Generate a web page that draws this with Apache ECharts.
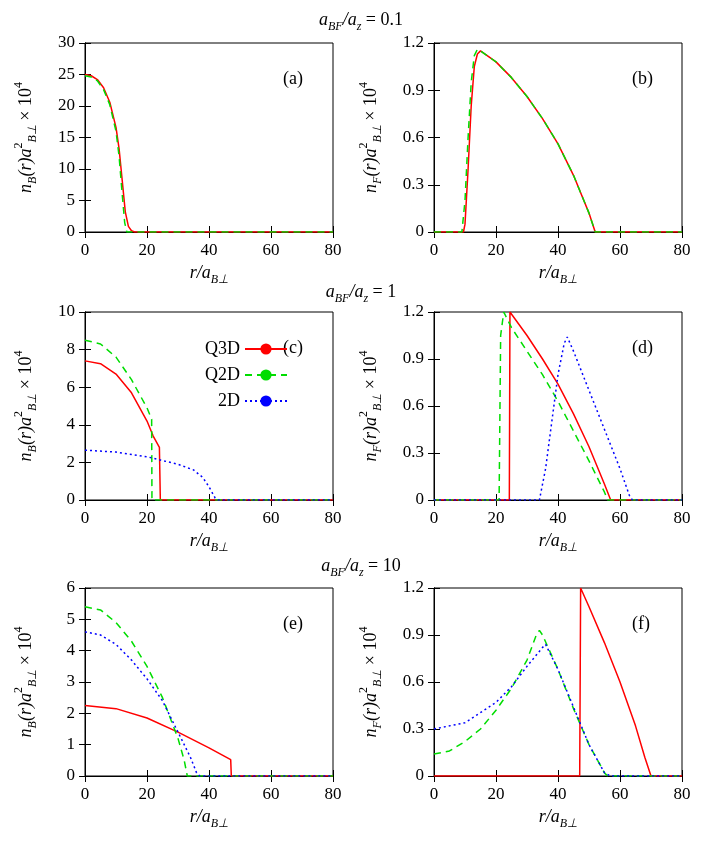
<!DOCTYPE html>
<html><head><meta charset="utf-8">
<script src="https://cdn.jsdelivr.net/npm/echarts@6/dist/echarts.min.js"></script>
<style>html,body{margin:0;padding:0;background:#fff}#c{width:722px;height:844px}</style>
</head><body><div id="c"></div>
<script>
// ---- data (r/a_B⊥, value) ----
const aQ3D=[[0,25],[2,24.8],[4,24.2],[6,22.9],[8,20.6],[10,16.6],[11,13.2],[12,8.2],[13,3.2],[14,0.9],[15,0.2],[16,0],[80,0]];
const aQ2D=[[0,24.8],[2,24.6],[4,24],[6,22.6],[8,20.2],[10,16],[11,12],[12,6],[12.8,1.5],[13.5,0],[80,0]];
const bQ3D=[[0,0],[9.5,0],[10,0.05],[11,0.4],[12,0.8],[13,1.05],[14,1.13],[15,1.15],[20,1.08],[25,0.98],[30,0.86],[35,0.72],[40,0.56],[45,0.36],[50,0.12],[52,0],[80,0]];
const bQ2D=[[0,0],[9,0],[10,0.2],[11,0.6],[12,0.95],[13,1.12],[14,1.16],[15,1.15],[20,1.08],[25,0.98],[30,0.86],[35,0.72],[40,0.56],[45,0.36],[50,0.12],[52,0],[80,0]];
const cQ3D=[[0,7.4],[5,7.25],[10,6.7],[15,5.7],[20,4.2],[22,3.4],[24,2.8],[24.3,0],[80,0]];
const cQ2D=[[0,8.5],[5,8.3],[10,7.6],[15,6.4],[20,4.9],[21.5,4.3],[21.6,0],[80,0]];
const c2D=[[0,2.65],[10,2.55],[20,2.3],[30,1.9],[35,1.6],[38,1.2],[40,0.7],[42,0.1],[43,0],[80,0]];
const dQ3D=[[0,0],[24.3,0],[24.5,1.2],[30,1.05],[35,0.9],[40,0.74],[45,0.55],[50,0.34],[55,0.1],[57,0],[80,0]];
const dQ2D=[[0,0],[21,0],[21.5,1.05],[22.5,1.2],[25,1.1],[30,0.95],[35,0.8],[40,0.63],[45,0.44],[50,0.25],[55,0.05],[56,0],[80,0]];
const d2D=[[0,0],[34,0],[36,0.2],[38,0.5],[40,0.8],[42,1.0],[43,1.04],[45,0.95],[50,0.7],[55,0.45],[60,0.2],[63,0.03],[64,0],[80,0]];
const eQ3D=[[0,2.25],[10,2.15],[20,1.85],[30,1.4],[40,0.9],[47,0.52],[47.2,0],[80,0]];
const eQ2D=[[0,5.4],[5,5.3],[10,4.9],[15,4.3],[20,3.5],[25,2.5],[30,1.2],[32,0.5],[33,0],[80,0]];
const e2D=[[0,4.6],[5,4.5],[10,4.2],[15,3.7],[20,3.1],[25,2.4],[30,1.4],[34,0.6],[36,0.1],[37,0],[80,0]];
const fQ3D=[[0,0],[47,0],[47.3,1.2],[50,1.08],[55,0.85],[60,0.6],[65,0.32],[68,0.12],[70,0],[80,0]];
const fQ2D=[[0,0.14],[5,0.16],[10,0.22],[15,0.3],[20,0.42],[25,0.56],[30,0.74],[33,0.9],[34,0.93],[35,0.9],[40,0.68],[45,0.43],[50,0.2],[55,0.02],[56,0],[80,0]];
const f2D=[[0,0.3],[10,0.34],[20,0.47],[25,0.57],[30,0.7],[35,0.82],[36,0.84],[40,0.68],[45,0.44],[50,0.2],[55,0.02],[57,0],[80,0]];
const panelLabels=['(a)','(b)','(c)','(d)','(e)','(f)'];
const yMax=[30,1.2,10,1.2,6,1.2];
const yStep=[5,0.3,2,0.3,1,0.3];
const rowTitles=['0.1','1','10'];
const panelData=[[aQ3D,aQ2D,null],[bQ3D,bQ2D,null],[cQ3D,cQ2D,c2D],[dQ3D,dQ2D,d2D],[eQ3D,eQ2D,e2D],[fQ3D,fQ2D,f2D]];

const F='Liberation Serif';
const rich={i:{fontFamily:F,fontStyle:'italic',fontWeight:'normal',fontSize:18,lineHeight:26,color:'#000'},
 t:{fontFamily:F,fontWeight:'normal',fontSize:18,lineHeight:26,color:'#000'},
 sb:{fontFamily:F,fontStyle:'italic',fontWeight:'normal',fontSize:12,verticalAlign:'bottom',lineHeight:26,color:'#000'},
 sp:{fontFamily:F,fontWeight:'normal',fontSize:12,verticalAlign:'top',lineHeight:26,color:'#000'}};
const lefts=[85,434], tops=[43,312,588], W=248, H=[189,188,188];
const names=['Q3D','Q2D','2D'];
const styles=[{color:'#ff0000',type:'solid'},{color:'#00dd00',type:[7,5]},{color:'#0000ff',type:[2,3]}];
const grid=[],xAxis=[],yAxis=[],series=[],graphic=[],title=[];
for(let p=0;p<6;p++){
  const col=p%2,row=Math.floor(p/2);
  grid.push({left:lefts[col],top:tops[row],width:W,height:H[row],show:true,borderColor:'#000',borderWidth:1});
  const ax={min:0,max:80,interval:20,gridIndex:p,axisLine:{lineStyle:{color:'#000'}},axisTick:{inside:true,length:6,lineStyle:{color:'#000'}},splitLine:{show:false}};
  xAxis.push(Object.assign({},ax,{type:'value',position:'bottom',axisLabel:{fontFamily:F,fontSize:17,color:'#000',margin:10},
    name:'{i|r/a}{sb|B⊥}',nameLocation:'middle',nameGap:28,nameTextStyle:{rich}}));
  xAxis.push(Object.assign({},ax,{type:'value',position:'top',axisLabel:{show:false}}));
  const ay={min:0,max:yMax[p],interval:yStep[p],gridIndex:p,axisLine:{lineStyle:{color:'#000'}},axisTick:{inside:true,length:6,lineStyle:{color:'#000'}},splitLine:{show:false}};
  const sub=col===0?'B':'F';
  yAxis.push(Object.assign({},ay,{type:'value',position:'left',
    axisLabel:{fontFamily:F,fontSize:17,color:'#000',margin:10,formatter:v=>yStep[p]<1?(v===0?'0':v.toFixed(1)):String(v)},
    name:'{i|n}{sb|'+sub+'}{i|(r)a}{sp|2}{sb|B⊥}{t| × 10}{sp|4}',nameLocation:'middle',nameGap:col===0?46:50,nameRotate:90,nameTextStyle:{rich}}));
  yAxis.push(Object.assign({},ay,{type:'value',position:'right',axisLabel:{show:false}}));
  panelData[p].forEach((d,k)=>{ if(!d)return;
    series.push({name:names[k],type:'line',xAxisIndex:2*p,yAxisIndex:2*p,data:d,symbol:'none',silent:true,
      lineStyle:{color:styles[k].color,type:styles[k].type,width:1.5},itemStyle:{color:styles[k].color}});
  });
  graphic.push({type:'text',left:lefts[col]+W-50,top:tops[row]+27,style:{text:panelLabels[p],fontFamily:F,fontSize:18,fill:'#000'}});
}
rowTitles.forEach((t,r)=>{
  title.push({text:'{i|a}{sb|BF}{i|/a}{sb|z}{t| = '+t+'}',left:'center',top:[2,274,548][r],textStyle:{fontWeight:'normal',rich}});
});
const chart=echarts.init(document.getElementById('c'));
chart.setOption({animation:false,backgroundColor:'#fff',title,grid,xAxis,yAxis,series,graphic,
  legend:{data:names,orient:'vertical',align:'right',left:200,top:335,itemWidth:42,itemHeight:14,itemGap:8,
    textStyle:{fontFamily:F,fontSize:18,color:'#000'}}});
</script></body></html>
